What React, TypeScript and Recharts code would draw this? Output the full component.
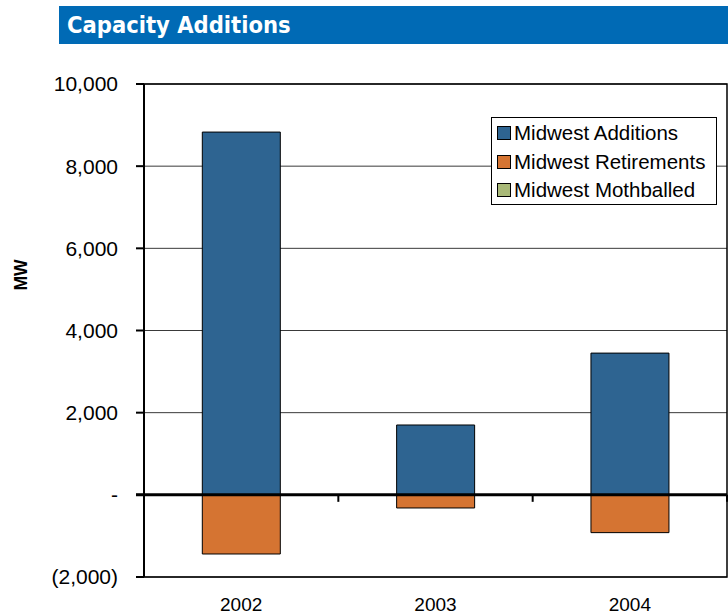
import React from "react";
import { BarChart, Bar, XAxis, YAxis, CartesianGrid, Legend, ReferenceLine, ReferenceArea } from "recharts";

const years = ["2002", "2003", "2004"];
const additions = [8830, 1700, 3450];
const retirements = [-1440, -320, -920];
const mothballed = [0, 0, 0];
const yTicks = [-2000, 0, 2000, 4000, 6000, 8000, 10000];

const seriesNames = ["Midwest Additions", "Midwest Retirements", "Midwest Mothballed"];
const seriesColors = ["#2E6491", "#D57432", "#A9B978"];

const data = years.map((year, i) => ({
  year,
  additions: additions[i],
  retirements: retirements[i],
  mothballed: mothballed[i],
}));

const FONT = "Arial, 'Liberation Sans', sans-serif";

function formatTick(v: number) {
  if (v === 0) return "-";
  const s = Math.abs(v).toLocaleString("en-US");
  return v < 0 ? `(${s})` : s;
}

// zero line with small tick marks at the category boundaries
function ZeroLine(props: any) {
  const { x1, x2, y1 } = props;
  const n = years.length;
  const step = (x2 - x1) / n;
  const marks = [];
  for (let i = 1; i <= n; i++) {
    const x = x1 + step * i;
    marks.push(<line key={i} x1={x} x2={x} y1={y1} y2={y1 + 7} stroke="#000" strokeWidth={2} />);
  }
  return (
    <g>
      <line x1={x1 - 8} x2={x2} y1={y1} y2={y1} stroke="#000" strokeWidth={3} />
      {marks}
    </g>
  );
}

function LegendBox() {
  return (
    <div
      style={{
        border: "1px solid #000",
        background: "#fff",
        width: 219,
        height: 85,
        boxSizing: "content-box",
        padding: "1px 0 0 5px",
        fontFamily: FONT,
        fontSize: 20.5,
        color: "#000",
        textAlign: "left",
        whiteSpace: "nowrap",
      }}
    >
      {seriesNames.map((name, i) => (
        <div key={name} style={{ display: "flex", alignItems: "center", height: 28.5 }}>
          <span
            style={{
              display: "inline-block",
              width: 12,
              height: 12,
              background: seriesColors[i],
              border: "1px solid #000",
              marginRight: 3,
              flexShrink: 0,
            }}
          />
          {name}
        </div>
      ))}
    </div>
  );
}

export default function App() {
  return (
    <div style={{ position: "absolute", left: 0, top: 0, width: 728, height: 615, background: "#fff" }}>
      <div
        style={{
          position: "absolute",
          left: 59,
          top: 6,
          width: 669,
          height: 38,
          background: "#006AB5",
          color: "#fff",
          fontFamily: "'DejaVu Sans Condensed', 'Liberation Sans Narrow', sans-serif",
          fontStretch: "condensed",
          fontWeight: "bold",
          fontSize: 23.5,
          lineHeight: "38px",
          paddingLeft: 8,
          boxSizing: "border-box",
        }}
      >
        Capacity Additions
      </div>
      <div style={{ position: "absolute", left: 0, top: 0 }}>
        <BarChart
          width={728}
          height={615}
          data={data}
          stackOffset="sign"
          barCategoryGap="30%"
          margin={{ top: 84, right: 1, left: 0, bottom: 0 }}
        >
          <CartesianGrid vertical={false} stroke="#3a3a3a" strokeWidth={1} />
          <XAxis
            dataKey="year"
            height={38}
            axisLine={false}
            tickLine={false}
            tickSize={0}
            tickMargin={21}
            tick={{ fontSize: 19, fill: "#000", fontFamily: FONT }}
          />
          <YAxis
            width={144}
            domain={[-2000, 10000]}
            ticks={yTicks}
            interval={0}
            tickFormatter={formatTick}
            axisLine={{ stroke: "#000", strokeWidth: 2 }}
            tickLine={{ stroke: "#000", strokeWidth: 2 }}
            tickSize={8}
            tickMargin={18}
            tick={{ fontSize: 21, fill: "#000", fontFamily: FONT }}
            label={{
              content: () => (
                <text
                  x={21}
                  y={275}
                  transform="rotate(-90 21 275)"
                  textAnchor="middle"
                  dominantBaseline="central"
                  fontFamily={FONT}
                  fontWeight="bold"
                  fontSize={17.5}
                  fill="#000"
                >
                  MW
                </text>
              ),
            }}
          />
          <ReferenceArea y1={-2000} y2={10000} fill="none" stroke="#000" strokeWidth={1.5} />
          <Bar dataKey="additions" name={seriesNames[0]} stackId="a" fill={seriesColors[0]} stroke="#000" strokeWidth={1} isAnimationActive={false} />
          <Bar dataKey="retirements" name={seriesNames[1]} stackId="a" fill={seriesColors[1]} stroke="#000" strokeWidth={1} isAnimationActive={false} />
          <Bar dataKey="mothballed" name={seriesNames[2]} stackId="a" fill={seriesColors[2]} stroke="#000" strokeWidth={1} isAnimationActive={false} />
          <ReferenceLine y={0} shape={ZeroLine} />
          <Legend
            layout="vertical"
            align="center"
            verticalAlign="middle"
            content={() => <LegendBox />}
            wrapperStyle={{ left: 491, top: 117, width: "auto", height: "auto" }}
          />
        </BarChart>
      </div>
    </div>
  );
}
